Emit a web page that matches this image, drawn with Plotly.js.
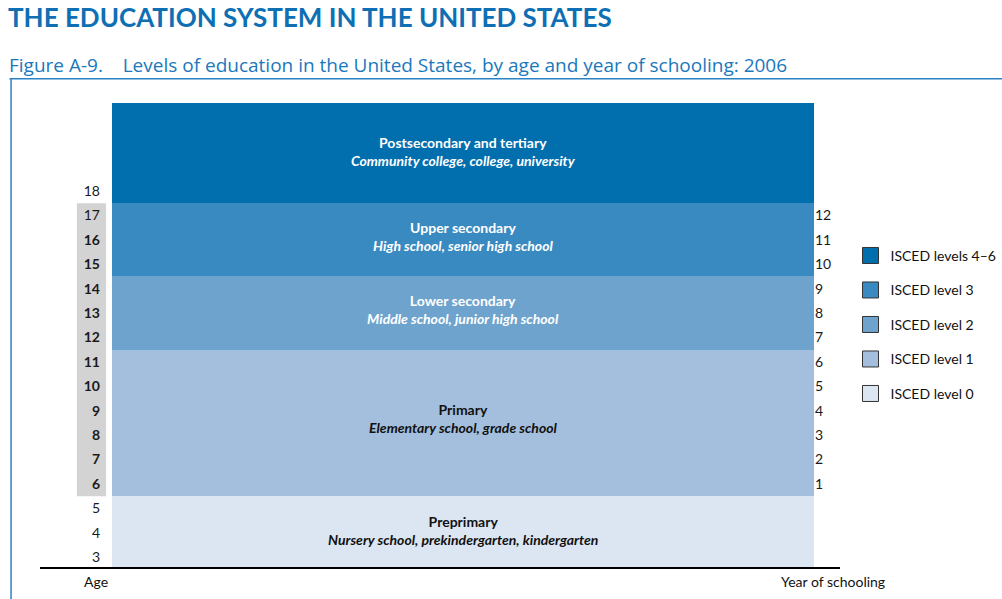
<!DOCTYPE html>
<html>
<head>
<meta charset="utf-8">
<script src="https://cdn.plot.ly/plotly-3.0.1.min.js"></script>
<style>
  html, body { margin: 0; padding: 0; background: #ffffff; }
  #chart { width: 1002px; height: 599px; }
</style>
</head>
<body>
<div id="chart"></div>
<script>
// ---- Data ----
const levels = ['Preprimary', 'Primary', 'Lower secondary', 'Upper secondary', 'Postsecondary and tertiary'];
const institutions = [
  'Nursery school, prekindergarten, kindergarten',
  'Elementary school, grade school',
  'Middle school, junior high school',
  'High school, senior high school',
  'Community college, college, university'
];
const iscedLabels = ['ISCED level 0', 'ISCED level 1', 'ISCED level 2', 'ISCED level 3', 'ISCED levels 4\u20136'];
const startAge = [2.6, 5.5, 11.5, 14.5, 17.5];
const endAge = [5.5, 11.5, 14.5, 17.5, 21.6];
const ageTicks = [3, 4, 5, 6, 7, 8, 9, 10, 11, 12, 13, 14, 15, 16, 17, 18];
const boldAges = [6, 7, 8, 9, 10, 11, 12, 13, 14, 15, 16];
const yearTicks = [1, 2, 3, 4, 5, 6, 7, 8, 9, 10, 11, 12];
const firstSchoolAge = 6;            // year of schooling 1 = age 6
const compulsoryRange = [5.5, 17.5]; // grey band behind ages 6-17

// ---- Styles ----
const colors = ['#dce6f2', '#a3bfdd', '#6ea3ce', '#3a8ac2', '#016eae'];
const textColors = ['#111111', '#111111', '#ffffff', '#ffffff', '#ffffff'];
const blue = '#1a78bd';

const yRange = [startAge[0], endAge[endAge.length - 1]];
const y2Range = yRange.map(v => v - firstSchoolAge + 1);

const traces = [];
levels.forEach((lv, i) => {
  traces.push({
    type: 'bar',
    x: ['US'],
    y: [endAge[i] - startAge[i]],
    base: [startAge[i]],
    width: 1,
    marker: { color: colors[i], line: { width: 0 } },
    name: lv,
    showlegend: false,
    hoverinfo: 'skip'
  });
});
// legend entries (top: levels 4-6)
for (let i = levels.length - 1; i >= 0; i--) {
  traces.push({
    type: 'scatter',
    mode: 'markers',
    x: [null], y: [null],
    yaxis: 'y2',
    name: iscedLabels[i],
    legendgroup: 'g' + i,
    marker: { symbol: 'square', size: 16, color: colors[i], line: { color: '#333333', width: 1 } },
    showlegend: true,
    hoverinfo: 'skip'
  });
}

const annotations = levels.map((lv, i) => ({
  xref: 'x', yref: 'y',
  x: 0, y: (startAge[i] + endAge[i]) / 2,
  yshift: [1, 4, 4, 3, 2][i],
  text: '<b>' + lv + '</b><br><b><i>' + institutions[i] + '</i></b>',
  showarrow: false,
  font: { family: 'Lato, sans-serif', size: 14, color: textColors[i] },
  align: 'center', xanchor: 'center', yanchor: 'middle'
}));
annotations.push({
  xref: 'paper', yref: 'paper', x: -0.023, xanchor: 'center', y: -0.032, yanchor: 'middle',
  text: 'Age', showarrow: false,
  font: { family: 'Lato, sans-serif', size: 14, color: '#111' }
});
annotations.push({
  xref: 'paper', yref: 'paper', x: 1.027, xanchor: 'center', y: -0.032, yanchor: 'middle',
  text: 'Year of schooling', showarrow: false,
  font: { family: 'Lato, sans-serif', size: 14, color: '#111' }
});
annotations.push({
  xref: 'paper', yref: 'paper', x: -0.149, xanchor: 'left', y: 1.081, yanchor: 'middle',
  text: 'Figure A-9.\u00a0\u00a0\u00a0 Levels of education in the United States, by age and year of schooling: 2006',
  showarrow: false,
  font: { family: 'Open Sans, sans-serif', size: 19, color: blue }
});

const shapes = [
  // grey band behind compulsory ages
  { type: 'rect', xref: 'paper', yref: 'y', x0: -0.05, x1: -0.0085,
    y0: compulsoryRange[0], y1: compulsoryRange[1],
    fillcolor: '#d3d3d3', line: { width: 0 }, layer: 'below' },
  // baseline
  { type: 'line', xref: 'paper', yref: 'paper', x0: -0.1026, x1: 1.037, y0: -0.002, y1: -0.002,
    line: { color: '#000', width: 2 } },
  // frame: top line under subtitle and left rule
  { type: 'line', xref: 'paper', yref: 'paper', x0: -0.146, x1: 1.27, y0: 1.052, y1: 1.052,
    line: { color: '#2a84c4', width: 1.5 } },
  { type: 'line', xref: 'paper', yref: 'paper', x0: -0.1438, x1: -0.1438, y0: 1.052, y1: -0.07,
    line: { color: '#2a84c4', width: 1.5 } }
];

const layout = {
  width: 1002, height: 599,
  margin: { l: 112, r: 188, t: 103, b: 32, autoexpand: false },
  paper_bgcolor: '#ffffff', plot_bgcolor: '#ffffff',
  title: {
    text: '<b>THE EDUCATION SYSTEM IN THE UNITED STATES</b>',
    x: 0.008, xanchor: 'left', xref: 'container',
    y: 0.97, yanchor: 'middle', yref: 'container',
    font: { family: 'Lato, sans-serif', size: 26, color: '#0e6fb4' }
  },
  barmode: 'overlay',
  bargap: 0,
  xaxis: { range: [-0.5, 0.5], visible: false, fixedrange: true },
  yaxis: {
    range: yRange, showgrid: false, zeroline: false, showline: false,
    tickmode: 'array', tickvals: ageTicks,
    ticktext: ageTicks.map(a => boldAges.includes(a) ? '<b>' + a + '</b>' : String(a)),
    ticks: '', ticklabelstandoff: 11,
    tickfont: { family: 'Lato, sans-serif', size: 14, color: '#1a1a1a' }
  },
  yaxis2: {
    overlaying: 'y', side: 'right', anchor: 'x',
    range: y2Range, showgrid: false, zeroline: false, showline: false,
    tickmode: 'array', tickvals: yearTicks,
    ticks: '', ticklabelstandoff: 0,
    tickfont: { family: 'Lato, sans-serif', size: 14, color: '#1a1a1a' }
  },
  showlegend: true,
  legend: {
    x: 1.052, xanchor: 'left', y: 0.705, yanchor: 'top',
    traceorder: 'grouped', tracegroupgap: 13.3,
    bgcolor: 'rgba(0,0,0,0)', borderwidth: 0,
    font: { family: 'Liberation Sans Narrow, Lato, sans-serif', size: 14, color: '#111' }
  },
  annotations: annotations,
  shapes: shapes
};

Plotly.newPlot('chart', traces, layout, { staticPlot: true, displayModeBar: false });
</script>
</body>
</html>
